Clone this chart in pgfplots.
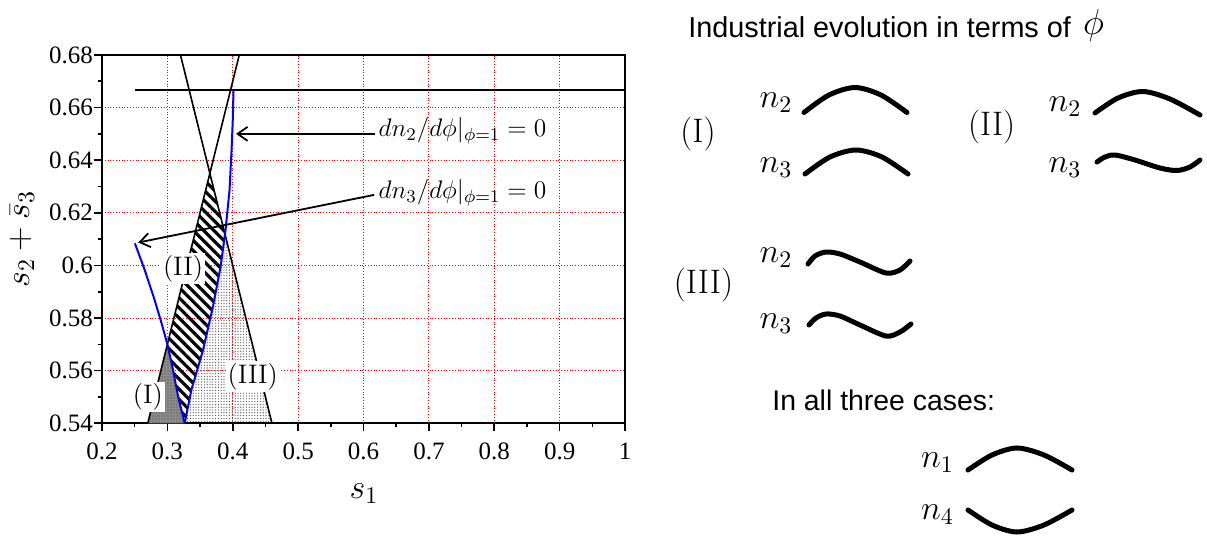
\RequirePackage{fix-cm}
\documentclass[border=0pt]{standalone}
\usepackage[no-math]{fontspec}
\setmainfont{Liberation Serif}
\newfontfamily\serif{Liberation Serif}
\newfontfamily\sansf{Liberation Sans}
\usepackage{pgfplots}
\pgfplotsset{compat=1.18}
\usetikzlibrary{patterns.meta,arrows.meta}
\pgfplotsset{sketch/.style={black, line width=2.5pt, smooth, line cap=round, mark=none}}

\begin{document}
\begin{tikzpicture}
% right panel: pixel coordinates of the whole figure
\begin{axis}[
  at={(0,0)}, anchor=south west,
  scale only axis, width=603.5pt, height=268pt,
  xmin=0, xmax=1207, ymin=0, ymax=536, y dir=reverse,
  hide axis, clip=false,
]
\addplot[draw=none] coordinates {(0,0) (1207,536)};
\node[anchor=base west, inner sep=0pt, font=\sansf\fontsize{14.4}{16}\selectfont] at (axis cs:688,37.5) {Industrial evolution in terms of};
\node[anchor=base, inner sep=0pt, font=\fontsize{18}{20}\selectfont] at (axis cs:1093.5,34) {$\phi$};
\begin{scope}[font=\fontsize{17}{20}\selectfont]
\node at (axis cs:698,134) {$(\mathrm{I})$};
\node at (axis cs:776,103) {$n_2$};
\node at (axis cs:776,168) {$n_3$};
\node at (axis cs:991.7,127) {$(\mathrm{II})$};
\node at (axis cs:1065,106.5) {$n_2$};
\node at (axis cs:1065,167.5) {$n_3$};
\node at (axis cs:703.5,285) {$(\mathrm{III})$};
\node at (axis cs:776,258) {$n_2$};
\node at (axis cs:776,324) {$n_3$};
\node at (axis cs:937.5,463) {$n_1$};
\node at (axis cs:937.5,515) {$n_4$};
\end{scope}
\node[anchor=base west, inner sep=0pt, font=\sansf\fontsize{14.2}{16}\selectfont] at (axis cs:772,410) {In all three cases:};
% (I)
\addplot[sketch] coordinates {(804,112.5) (829,95) (855,87.5) (881,95) (907,112.5)};
\addplot[sketch] coordinates {(805,174) (830,157) (856,150) (882,157) (908,174)};
% (II)
\addplot[sketch] coordinates {(1095,113) (1118,98) (1143,91.5) (1170,99) (1200,115)};
\addplot[sketch] coordinates {(1097,162) (1105,157) (1115,155) (1135,160) (1160,168) (1177,170.5) (1190,167) (1200,160)};
% (III)
\addplot[sketch] coordinates {(808,264) (815,256) (826,252) (840,254) (860,262) (886,273) (900,270) (910,261)};
\addplot[sketch] coordinates {(809,325) (816,318) (826,314) (840,316) (860,325) (886,336) (900,332) (911,324)};
% all cases
\addplot[sketch] coordinates {(968,470) (992,455) (1017,448) (1044,455) (1072,470)};
\addplot[sketch] coordinates {(968,510) (992,525) (1017,532) (1044,525) (1072,510)};
\end{axis}

% phase diagram
\begin{axis}[
  at={(51pt,56.35pt)}, anchor=south west,
  scale only axis, width=261.5pt, height=184.2pt,
  xmin=0.2, xmax=1, ymin=0.54, ymax=0.68,
  xtick={0.2,0.3,0.4,0.5,0.6,0.7,0.8,0.9,1},
  xticklabels={0.2,0.3,0.4,0.5,0.6,0.7,0.8,0.9,1},
  ytick={0.54,0.56,0.58,0.6,0.62,0.64,0.66,0.68},
  yticklabels={0.54,0.56,0.58,0.6,0.62,0.64,0.66,0.68},
  minor x tick num=1, minor y tick num=1,
  tick align=outside, tick pos=left,
  major tick length=4pt, minor tick length=2pt,
  every tick/.style={black, line width=0.8pt},
  grid=major, major grid style={red, densely dotted, line width=0.5pt},
  axis line style={line width=1.1pt},
  tick label style={font=\serif\fontsize{12.5}{14}\selectfont},
  xticklabel style={yshift=-2.5pt},
  yticklabel style={xshift=3pt},
  xlabel={$s_1$}, ylabel={$s_2+\bar{s}_3$},
  every axis x label/.style={at={(axis description cs:0.501,-0.192)}, anchor=center, font=\fontsize{17}{20}\selectfont},
  every axis y label/.style={at={(axis description cs:-0.153,0.5)}, rotate=90, anchor=center, font=\fontsize{17}{20}\selectfont},
  clip=false,
]
% region (I)
\addplot[draw=none, fill=black!45, postaction={pattern={Dots[distance=1.5pt,radius=0.35pt]}, pattern color=black!75}]
  coordinates {(0.270,0.540) (0.300,0.570) (0.308,0.561) (0.3164,0.5502) (0.3265,0.540)} -- cycle;
% region (II)
\addplot[draw=none, pattern={Lines[angle=-45,distance=3.6pt,line width=1.6pt]}, pattern color=black]
  coordinates {(0.300,0.570) (0.365,0.635) (0.3885,0.6115) (0.3814,0.5995) (0.3697,0.5843) (0.3545,0.5678) (0.3367,0.5527) (0.3265,0.540)
  (0.3164,0.5502) (0.308,0.561)} -- cycle;
% region (III)
\addplot[draw=none, pattern={Dots[distance=1.4pt,radius=0.32pt]}, pattern color=black!70]
  coordinates {(0.3265,0.540) (0.3367,0.5527) (0.3545,0.5678) (0.3697,0.5843) (0.3814,0.5995) (0.3885,0.6115) (0.460,0.540)} -- cycle;
% boundaries
\addplot[black, line width=0.8pt] coordinates {(0.32,0.68) (0.46,0.54)};
\addplot[black, line width=0.8pt] coordinates {(0.27,0.54) (0.41,0.68)};
\addplot[black, line width=1pt] coordinates {(0.25,0.6667) (1,0.6667)};
\addplot[blue, line width=1pt] coordinates {(0.2503,0.6084) (0.265,0.5985) (0.279,0.588) (0.290,0.579) (0.300,0.570) (0.308,0.561) (0.3164,0.5502) (0.3265,0.540)};
\addplot[blue, line width=1pt] coordinates {(0.3265,0.540) (0.3367,0.5527) (0.3545,0.5678) (0.3697,0.5843) (0.3814,0.5995) (0.389,0.6135) (0.3951,0.6287) (0.3982,0.6439) (0.400,0.655) (0.4012,0.6667)};
% labels
\begin{scope}[font=\fontsize{13.4}{16}\selectfont]
\node[fill=white, inner sep=1pt] at (axis cs:0.2701,0.550) {$(\mathrm{I})$};
\node[fill=white, inner sep=1pt] at (axis cs:0.324,0.5989) {$(\mathrm{II})$};
\node[fill=white, inner sep=1pt] at (axis cs:0.4307,0.5577) {$(\mathrm{III})$};
\end{scope}
\begin{scope}[font=\fontsize{12.7}{15}\selectfont]
\node[anchor=base west, inner sep=0pt] at (axis cs:0.6226,0.649) {$dn_2/d\phi|_{\phi=1}=0$};
\node[anchor=base west, inner sep=0pt] at (axis cs:0.6226,0.6255) {$dn_3/d\phi|_{\phi=1}=0$};
\end{scope}
\addplot[black, line width=0.9pt, -{Straight Barb[length=5pt,width=7pt]}] coordinates {(0.6177,0.650) (0.405,0.650)};
\addplot[black, line width=0.9pt, -{Straight Barb[length=5pt,width=7pt]}] coordinates {(0.6162,0.6268) (0.2554,0.6087)};
\end{axis}
\end{tikzpicture}
\end{document}
